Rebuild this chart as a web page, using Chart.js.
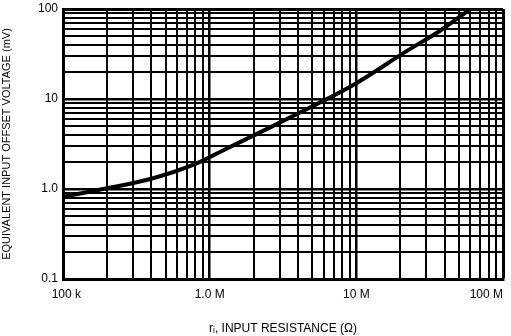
<!DOCTYPE html>
<html>
<head>
<meta charset="utf-8">
<script src="https://cdn.jsdelivr.net/npm/chart.js@4.4.0/dist/chart.umd.min.js"></script>
<style>
html,body{margin:0;padding:0;background:#fff;}
#wrap{position:relative;width:511px;height:336px;}
</style>
</head>
<body>
<div id="wrap"><canvas id="c" width="511" height="336"></canvas></div>
<script>
// Input resistance (ohms) and equivalent input offset voltage (mV)
const resistance    = [1e5, 2e5, 4e5, 8e5, 1.3e6, 2.1e6, 6e6, 1e7, 2.2e7, 3.7e7, 6e7];
const offsetVoltage = [0.82, 1.02, 1.3, 1.9, 2.8, 4.1, 9.6, 15, 34, 57, 100];

const xDecades = [1e5, 1e6, 1e7];
const yDecades = [0.1, 1, 10];
const mantissas = [1, 2, 3, 4, 5, 6, 7, 8, 9];
const xMax = 1e8, yMax = 100;

const xTickLabels = {"100000": "  100 k", "1000000": "1.0 M", "10000000": "10 M", "100000000": "100 M          "};
const yTickLabels = {"0.1": "0.1", "1": "1.0", "10": "10", "100": "100"};

const xTitle = "r\u1D62, INPUT RESISTANCE (\u03A9)";
const yTitle = "EQUIVALENT INPUT OFFSET VOLTAGE (mV)";

function gridValues(decades, max) {
  const out = [];
  decades.forEach(d => mantissas.forEach(m => out.push(+(d * m).toPrecision(3))));
  out.push(max);
  return out;
}
const xGrid = gridValues(xDecades, xMax);
const yGrid = gridValues(yDecades, yMax);

function isMajor(v) {
  const l = Math.log10(v);
  return Math.abs(l - Math.round(l)) < 1e-6;
}

const font = {family: "'Liberation Sans', Arial, sans-serif", size: 12};

new Chart(document.getElementById('c'), {
  type: 'line',
  data: {
    datasets: [{
      data: resistance.map((r, i) => ({x: r, y: offsetVoltage[i]})),
      borderColor: '#000',
      borderWidth: 4,
      pointRadius: 0,
      cubicInterpolationMode: 'monotone',
      fill: false
    }]
  },
  options: {
    responsive: false,
    animation: false,
    layout: {padding: {top: 9, right: 8, bottom: 0, left: 0}},
    plugins: {legend: {display: false}, tooltip: {enabled: false}},
    scales: {
      x: {
        type: 'logarithmic',
        min: 1e5, max: xMax,
        afterBuildTicks: s => { s.ticks = xGrid.map(v => ({value: v})); },
        afterFit: s => { s.height = 57; s.paddingLeft = 0; s.paddingRight = 0; },
        border: {display: true, color: '#000', width: 3},
        grid: {
          color: '#000',
          drawTicks: false,
          lineWidth: ctx => {
            const v = ctx.tick ? ctx.tick.value : 0;
            if (v === xMax) return 3;
            return isMajor(v) ? 2.5 : 2;
          }
        },
        ticks: {
          autoSkip: false,
          maxRotation: 0,
          padding: 8,
          color: '#000',
          font: font,
          callback: v => xTickLabels[String(v)] || ''
        },
        title: {
          display: true,
          text: xTitle,
          color: '#000',
          font: font,
          padding: {top: 5, bottom: 0}
        }
      },
      y: {
        type: 'logarithmic',
        min: 0.1, max: yMax,
        afterBuildTicks: s => { s.ticks = yGrid.map(v => ({value: v})); },
        afterFit: s => { s.width = 63; s.paddingTop = 0; s.paddingBottom = 0; },
        border: {display: true, color: '#000', width: 3},
        grid: {
          color: '#000',
          drawTicks: false,
          lineWidth: ctx => {
            const v = ctx.tick ? ctx.tick.value : 0;
            if (v === yMax) return 3;
            return isMajor(v) ? 2.5 : 2;
          }
        },
        ticks: {
          autoSkip: false,
          padding: 5,
          color: '#000',
          font: font,
          callback: v => yTickLabels[String(v)] || ''
        },
        title: {
          display: true,
          text: yTitle,
          color: '#000',
          font: {family: font.family, size: 11},
          padding: {top: 0, bottom: 4}
        }
      }
    }
  }
});
</script>
</body>
</html>
